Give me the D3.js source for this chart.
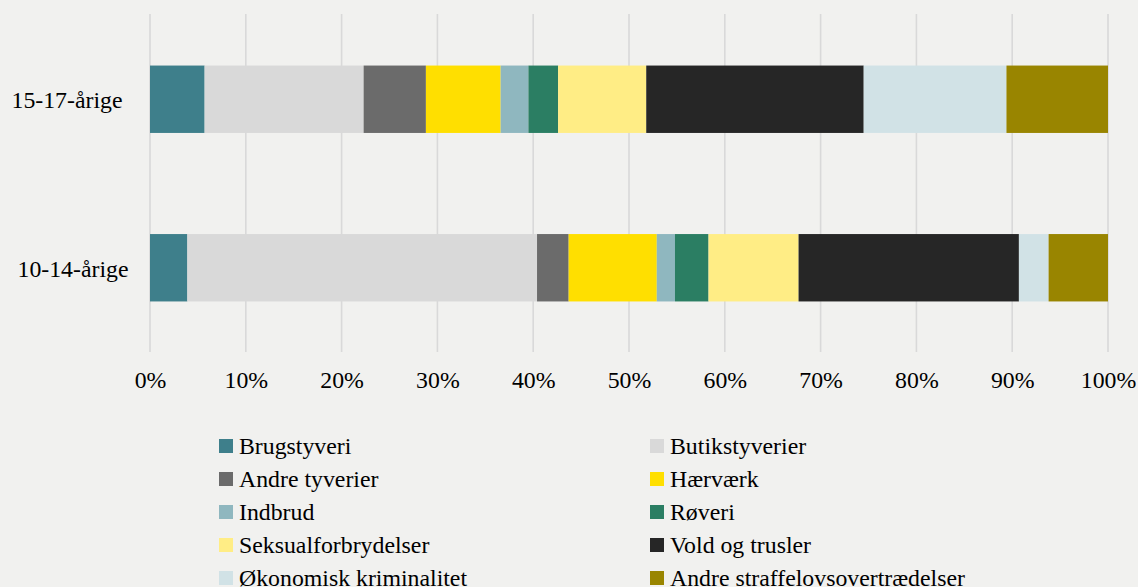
<!DOCTYPE html>
<html>
<head>
<meta charset="utf-8">
<script src="https://cdn.jsdelivr.net/npm/d3@7"></script>
<style>
  html, body { margin: 0; padding: 0; background: #f1f1ef; }
  svg { display: block; }
  text { font-family: "Liberation Serif", "Times New Roman", serif; fill: #000; }
</style>
</head>
<body>
<svg id="chart" width="1138" height="587"></svg>
<script>
// ---- data ----
const categories = ["15-17-årige", "10-14-årige"];
const seriesNames = ["Brugstyveri", "Butikstyverier", "Andre tyverier", "Hærværk", "Indbrud",
  "Røveri", "Seksualforbrydelser", "Vold og trusler", "Økonomisk kriminalitet", "Andre straffelovsovertrædelser"];
const values1517 = [5.7, 16.6, 6.5, 7.8, 2.9, 3.1, 9.2, 22.7, 14.9, 10.6];
const values1014 = [3.9, 36.5, 3.3, 9.2, 1.9, 3.5, 9.4, 23.0, 3.1, 6.2];
const seriesColors = ["#3e7f8b", "#d9d9d9", "#6b6b6b", "#ffdf00", "#8fb7bf",
  "#2b7e63", "#ffed85", "#262626", "#d1e2e6", "#998500"];
const xTicks = [0, 10, 20, 30, 40, 50, 60, 70, 80, 90, 100];

// ---- layout ----
const W = 1138, H = 587;
const plot = { left: 150, right: 1108, top: 14, bottom: 352 };
const fontSize = 23.8;

const svg = d3.select("#chart");
svg.append("rect").attr("width", W).attr("height", H).attr("fill", "#f1f1ef");

const x = d3.scaleLinear().domain([0, 100]).range([plot.left, plot.right]);
const y = d3.scaleBand().domain(categories).range([plot.top + 1, plot.bottom]).paddingInner(0.6).paddingOuter(0.3);

// gridlines
svg.append("g").selectAll("line").data(xTicks).join("line")
  .attr("x1", d => x(d)).attr("x2", d => x(d))
  .attr("y1", plot.top).attr("y2", plot.bottom)
  .attr("stroke", "#d9d9d9").attr("stroke-width", 1.6);

// stacked data
const rows = categories.map((c, i) => {
  const vals = i === 0 ? values1517 : values1014;
  const o = { cat: c };
  seriesNames.forEach((s, j) => o[s] = vals[j]);
  return o;
});
const stacked = d3.stack().keys(seriesNames)(rows);

svg.append("g").selectAll("g").data(stacked).join("g")
  .attr("fill", (d, i) => seriesColors[i])
  .selectAll("rect").data(d => d).join("rect")
  .attr("x", d => x(d[0]))
  .attr("width", d => x(d[1]) - x(d[0]))
  .attr("y", d => y(d.data.cat))
  .attr("height", y.bandwidth());

// x axis labels
const xAxis = d3.axisBottom(x).tickValues(xTicks).tickFormat(d => d + "%").tickSize(0).tickPadding(0);
const gx = svg.append("g").attr("transform", `translate(0,${plot.bottom})`).call(xAxis);
gx.select(".domain").remove();
gx.selectAll("text").attr("font-family", "Liberation Serif").attr("font-size", fontSize)
  .attr("fill", "#000").attr("dy", null).attr("y", 36);

// y axis labels
const yAxis = d3.axisLeft(y).tickSize(0).tickPadding(0);
const gy = svg.append("g").attr("transform", `translate(${plot.left},0)`).call(yAxis);
gy.select(".domain").remove();
gy.selectAll("text").attr("font-family", "Liberation Serif").attr("font-size", fontSize)
  .attr("fill", "#000").attr("text-anchor", "middle")
  .attr("x", (d, i) => i === 0 ? -83 : -77).attr("dy", "0.37em");

// legend
const legend = svg.append("g");
const colX = [219, 650];
const rowY0 = 439, rowStep = 33, sw = 14;
seriesNames.forEach((s, i) => {
  const cx = colX[i % 2];
  const ry = rowY0 + Math.floor(i / 2) * rowStep;
  const g = legend.append("g");
  g.append("rect").attr("x", cx).attr("y", ry).attr("width", sw).attr("height", sw).attr("fill", seriesColors[i]);
  g.append("text").attr("x", cx + 20).attr("y", ry + sw / 2 + 7.5)
    .attr("font-size", fontSize).text(s);
});
</script>
</body>
</html>
